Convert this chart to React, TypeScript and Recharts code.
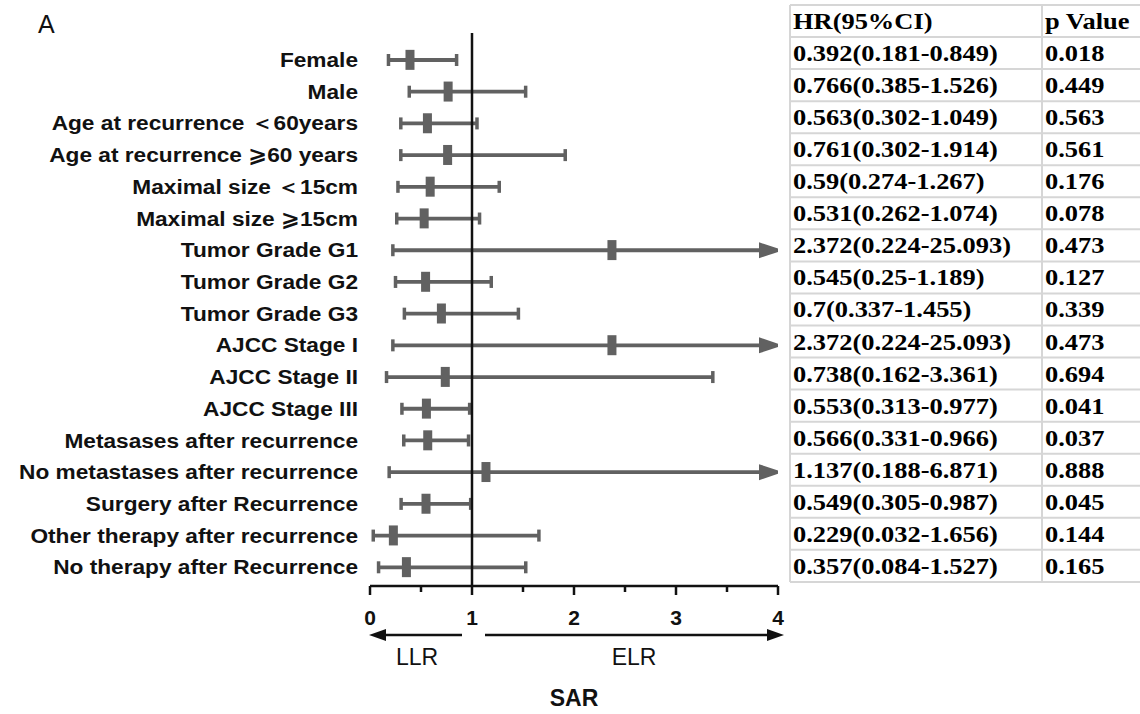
import React from 'react'
import { ComposedChart, Bar, Scatter, XAxis, YAxis, ReferenceLine } from 'recharts'

const labels = [
  'Female',
  'Male',
  'Age at recurrence ＜60years',
  'Age at recurrence ⩾60 years',
  'Maximal size ＜15cm',
  'Maximal size ⩾15cm',
  'Tumor Grade G1',
  'Tumor Grade G2',
  'Tumor Grade G3',
  'AJCC Stage I',
  'AJCC Stage II',
  'AJCC Stage III',
  'Metasases after recurrence',
  'No metastases after recurrence',
  'Surgery after Recurrence',
  'Other therapy after recurrence',
  'No therapy after Recurrence',
]
const hr = [0.392, 0.766, 0.563, 0.761, 0.59, 0.531, 2.372, 0.545, 0.7, 2.372, 0.738, 0.553, 0.566, 1.137, 0.549, 0.229, 0.357]
const lower = [0.181, 0.385, 0.302, 0.302, 0.274, 0.262, 0.224, 0.25, 0.337, 0.224, 0.162, 0.313, 0.331, 0.188, 0.305, 0.032, 0.084]
const upper = [0.849, 1.526, 1.049, 1.914, 1.267, 1.074, 25.093, 1.189, 1.455, 25.093, 3.361, 0.977, 0.966, 6.871, 0.987, 1.656, 1.527]
const pValues = ['0.018', '0.449', '0.563', '0.561', '0.176', '0.078', '0.473', '0.127', '0.339', '0.473', '0.694', '0.041', '0.037', '0.888', '0.045', '0.144', '0.165']
const xTicks = [0, 0.5, 1, 1.5, 2, 2.5, 3, 3.5, 4]
const X_MAX = 4

const GRAY = '#616161'
const SANS = '"Liberation Sans", Arial, "DejaVu Sans", sans-serif'
const SERIF = '"Liberation Serif", "Times New Roman", serif'

const data = labels.map((name, i) => ({
  name,
  hr: hr[i],
  ci: [lower[i], Math.min(upper[i], X_MAX)],
  clipped: upper[i] > X_MAX,
}))

const hrText = (i: number) => `${hr[i]}(${lower[i]}-${upper[i]})`

// whisker: line + end caps, arrow when the CI runs off the axis
function Whisker(props: any) {
  const { x, y, width, height, payload } = props
  const cy = y + height / 2
  const x2 = x + width
  return (
    <g>
      <line x1={x} x2={payload.clipped ? x2 - 16 : x2} y1={cy} y2={cy} stroke={GRAY} strokeWidth={3.8} />
      <line x1={x} x2={x} y1={cy - 6} y2={cy + 6} stroke={GRAY} strokeWidth={3.5} />
      {payload.clipped ? (
        <polygon points={`${x2 - 19},${cy - 8} ${x2 + 5},${cy} ${x2 - 19},${cy + 8}`} fill={GRAY} />
      ) : (
        <line x1={x2} x2={x2} y1={cy - 6} y2={cy + 6} stroke={GRAY} strokeWidth={3.5} />
      )}
    </g>
  )
}

function Box(props: any) {
  const { cx, cy } = props
  return <rect x={cx - 4.5} y={cy - 10} width={9} height={20} fill={GRAY} />
}

function LabelTick(props: any) {
  const { x, y, payload } = props
  return (
    <text
      transform={`translate(${x - 4},${y}) scale(1.08,1)`}
      textAnchor="end"
      dominantBaseline="central"
      fontFamily={SANS}
      fontWeight="bold"
      fontSize={21}
      fill="#111"
    >
      {payload.value}
    </text>
  )
}

function AxisTick(props: any) {
  const { x, y, payload } = props
  const major = Number.isInteger(payload.value)
  return (
    <g>
      <line x1={x} x2={x} y1={y} y2={y + (major ? 9 : 6)} stroke="#111" strokeWidth={2.5} />
      {major && (
        <text x={x} y={y + 39} textAnchor="middle" fontFamily={SANS} fontWeight="bold" fontSize={21} fill="#111">
          {payload.value}
        </text>
      )}
    </g>
  )
}

// table geometry
const T_LEFT = 790
const T_MID = 1042
const T_RIGHT = 1150
const T_TOP = 5
const ROW_H = 32.05

function TableCell({ x, row, text }: { x: number; row: number; text: string }) {
  return (
    <text
      transform={`translate(${x},${T_TOP + ROW_H * row + ROW_H / 2 + 8}) scale(1.15,1)`}
      fontFamily={SERIF}
      fontWeight="bold"
      fontSize={23}
      fill="#000"
    >
      {text}
    </text>
  )
}

export default function App() {
  const rows = ['HR(95%CI)', ...labels.map((_, i) => hrText(i))]
  const ps = ['p Value', ...pValues]
  return (
    <div style={{ position: 'absolute', left: 0, top: 0, width: 1140, height: 714, overflow: 'hidden', background: '#fff' }}>
      <ComposedChart
        width={800}
        height={714}
        data={data}
        layout="vertical"
        margin={{ top: 33, right: 22, bottom: 98, left: 0 }}
      >
        <XAxis
          type="number"
          domain={[0, X_MAX]}
          ticks={xTicks}
          allowDataOverflow
          interval={0}
          height={30}
          axisLine={{ stroke: '#111', strokeWidth: 2.5 }}
          tickLine={false}
          tickSize={0}
          tickMargin={0}
          tick={<AxisTick />}
        />
        <YAxis
          type="category"
          dataKey="name"
          width={370}
          axisLine={false}
          tickLine={false}
          tick={<LabelTick />}
          interval={0}
          padding={{ top: 11, bottom: 3 }}
        />
        <ReferenceLine x={1} stroke="#111" strokeWidth={2.5} />
        <Bar dataKey="ci" barSize={12} shape={<Whisker />} isAnimationActive={false} />
        <Scatter dataKey="hr" shape={<Box />} isAnimationActive={false} />
      </ComposedChart>

      <svg width={1140} height={714} style={{ position: 'absolute', left: 0, top: 0, pointerEvents: 'none' }}>
        <text x={38} y={33} fontFamily={SANS} fontSize={25} fill="#111">A</text>
        <line x1={462} x2={380} y1={635} y2={635} stroke="#111" strokeWidth={2.5} />
        <polygon points="369,635 386,629 386,641" fill="#111" />
        <line x1={485} x2={772} y1={635} y2={635} stroke="#111" strokeWidth={2.5} />
        <polygon points="784,635 767,629 767,641" fill="#111" />
        <text x={417} y={665} textAnchor="middle" fontFamily={SANS} fontSize={23} fill="#111">LLR</text>
        <text x={634} y={665} textAnchor="middle" fontFamily={SANS} fontSize={23} fill="#111">ELR</text>
        <text x={574} y={706} textAnchor="middle" fontFamily={SANS} fontWeight="bold" fontSize={23} fill="#111">SAR</text>

        {/* HR / p value table */}
        <g stroke="#d6d6d6" strokeWidth={2}>
          {rows.concat(['']).map((_, r) => (
            <line key={r} x1={T_LEFT} x2={T_RIGHT} y1={T_TOP + ROW_H * r} y2={T_TOP + ROW_H * r} />
          ))}
          <line x1={T_LEFT} x2={T_LEFT} y1={T_TOP} y2={T_TOP + ROW_H * rows.length} />
          <line x1={T_MID} x2={T_MID} y1={T_TOP} y2={T_TOP + ROW_H * rows.length} />
        </g>
        {rows.map((t, r) => (
          <TableCell key={'h' + r} x={T_LEFT + 3} row={r} text={t} />
        ))}
        {ps.map((t, r) => (
          <TableCell key={'p' + r} x={T_MID + 3} row={r} text={t} />
        ))}
      </svg>
    </div>
  )
}
